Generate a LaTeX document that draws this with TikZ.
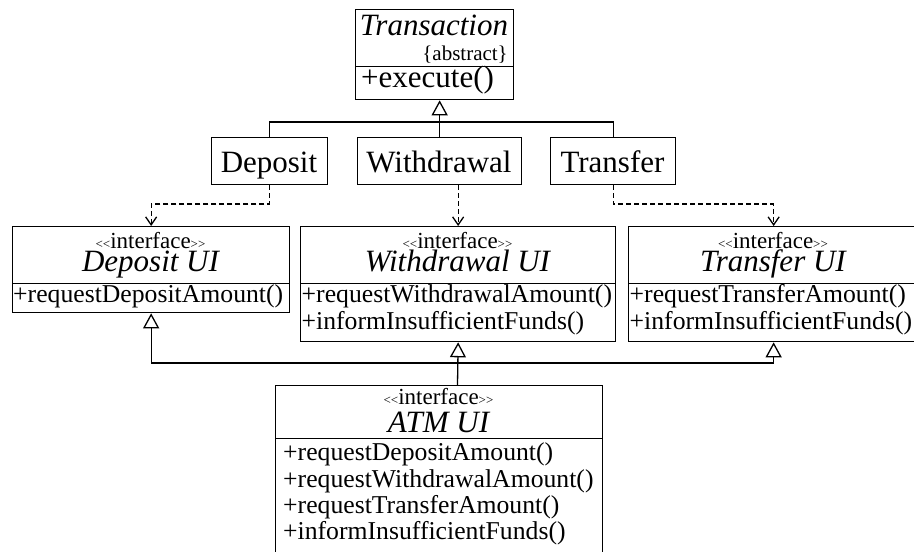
\documentclass[tikz,border=0pt]{standalone}
\usepackage{fontspec}
\setmainfont{Liberation Serif}
\usetikzlibrary{arrows.meta}
\newcommand\bigtxt{\fontsize{31}{36}\selectfont}
\newcommand\memtxt{\fontsize{25.7}{30}\selectfont}
\newcommand\tinytxt{\fontsize{21}{24}\selectfont}
\newcommand\ifacetxt{{\fontsize{13}{14}\selectfont<{}<}{\fontsize{23}{26}\selectfont interface}{\fontsize{13}{14}\selectfont>{}>}}
\begin{document}
\begin{tikzpicture}[x=1pt,y=-1pt,
  box/.style={draw, line width=1.3pt, inner sep=0pt, anchor=north west},
  ln/.style={line width=1.3pt},
  gen/.style={ln, -{Triangle[open, length=15pt, width=16pt]}},
  realize/.style={ln, dash pattern=on 5pt off 3pt, -{Straight Barb[length=8pt, width=11pt]}},
  txt/.style={inner sep=0pt, anchor=base},
  mtxt/.style={inner sep=0pt, anchor=base west, font=\memtxt}
]
\useasboundingbox (0,0) rectangle (914,552);
\clip (0,0) rectangle (914,552);

% Transaction
\node[box, minimum width=158pt, minimum height=57pt] (trans) at (355,9) {};
\node[box, minimum width=158pt, minimum height=33pt] (transm) at (355,66) {};
\node[txt, font=\bigtxt\itshape] (transT) at (434,35) {Transaction};
\node[inner sep=0pt, anchor=base east, font=\tinytxt] (transA) at (508,60) {\{abstract\}};
\node[inner sep=0pt, anchor=base west, font=\bigtxt] (transE) at (361,87) {+execute()};

% Subclasses
\node[box, minimum width=116pt, minimum height=47pt] (dep) at (211,137) {};
\node[txt, font=\bigtxt] (depT) at (269,172) {Deposit};
\node[box, minimum width=164pt, minimum height=47pt] (wd) at (357,137) {};
\node[txt, font=\bigtxt] (wdT) at (439,172) {Withdrawal};
\node[box, minimum width=125pt, minimum height=47pt] (tr) at (550,137) {};
\node[txt, font=\bigtxt] (trT) at (612.5,172) {Transfer};

% Deposit UI
\node[box, minimum width=277pt, minimum height=57pt] (depui) at (12,226) {};
\node[box, minimum width=277pt, minimum height=29pt] (depuim) at (12,283) {};
\node[txt] (depuiI) at (150.5,248) {\ifacetxt};
\node[txt, font=\bigtxt\itshape] (depuiT) at (150.5,271) {Deposit UI};
\node[mtxt] (depuiM1) at (13,302) {+requestDepositAmount()};

% Withdrawal UI
\node[box, minimum width=315pt, minimum height=57pt] (wdui) at (300,226) {};
\node[box, minimum width=315pt, minimum height=58pt] (wduim) at (300,283) {};
\node[txt] (wduiI) at (457.5,248) {\ifacetxt};
\node[txt, font=\bigtxt\itshape] (wduiT) at (457.5,271) {Withdrawal UI};
\node[mtxt] (wduiM1) at (301.5,302) {+requestWithdrawalAmount()};
\node[mtxt] (wduiM2) at (301.5,329) {+informInsufficientFunds()};

% Transfer UI
\node[box, minimum width=290pt, minimum height=57pt] (tui) at (628,226) {};
\node[box, minimum width=290pt, minimum height=58pt] (tuim) at (628,283) {};
\node[txt] (tuiI) at (773,248) {\ifacetxt};
\node[txt, font=\bigtxt\itshape] (tuiT) at (773,271) {Transfer UI};
\node[mtxt] (tuiM1) at (629.5,302) {+requestTransferAmount()};
\node[mtxt] (tuiM2) at (629.5,329) {+informInsufficientFunds()};

% ATM UI
\node[box, minimum width=327pt, minimum height=53pt] (atm) at (275,385) {};
\node[box, minimum width=327pt, minimum height=130pt] (atmm) at (275,438) {};
\node[txt] (atmI) at (438.5,404) {\ifacetxt};
\node[txt, font=\bigtxt\itshape] (atmT) at (438.5,432) {ATM UI};
\node[mtxt] (atmM1) at (283,460) {+requestDepositAmount()};
\node[mtxt] (atmM2) at (283,487) {+requestWithdrawalAmount()};
\node[mtxt] (atmM3) at (283,513) {+requestTransferAmount()};
\node[mtxt] (atmM4) at (283,539) {+informInsufficientFunds()};

% Generalization to Transaction
\coordinate (tj) at (439,122);
\draw[ln] (dep.north) -- (dep.north |- tj) -- (tr.north |- tj) -- (tr.north);
\draw[gen] (wd.north) -- (wd.north |- transm.south);

% Realization dashed arrows
\coordinate (dj) at (0,204);
\draw[realize] (dep.south) -- (dep.south |- dj) -| (depui.north);
\draw[realize] (wdui.north |- wd.south) -- (wdui.north);
\draw[realize] (tr.south) -- (tr.south |- dj) -| (tui.north);

% ATM UI generalizations
\coordinate (aj) at (457.5,363);
\draw[gen] (aj) -| (depuim.south);
\draw[gen] (aj) -| (tuim.south);
\draw[gen] (atm.north -| aj) -- (wduim.south);
\end{tikzpicture}
\end{document}
